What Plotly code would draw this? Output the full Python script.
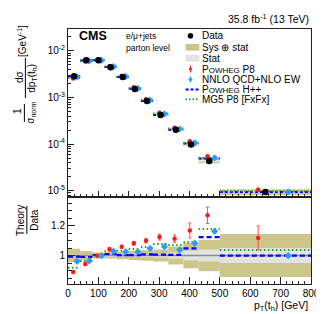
import plotly.graph_objects as go

# ---------------- data ----------------
bin_edges = [0, 40, 80, 120, 160, 200, 240, 280, 330, 380, 430, 500, 800]
data_xsec = [2.87e-3, 6.30e-3, 6.27e-3, 4.48e-3, 2.74e-3, 1.53e-3, 8.37e-4,
             4.20e-4, 2.03e-4, 9.86e-5, 4.35e-5, 9.4e-6]
tot_unc = [0.045, 0.030, 0.020, 0.020, 0.025, 0.030, 0.035, 0.040, 0.060, 0.085, 0.105, 0.143]
stat_unc = [0.008, 0.006, 0.006, 0.006, 0.007, 0.009, 0.011, 0.014, 0.020, 0.033, 0.040, 0.050]

ratio_powheg_p8 = [0.890, 0.943, 0.999, 1.042, 1.058, 1.081, 1.099, 1.123, 1.112, 1.167, 1.268, 1.117]
ratio_powheg_p8_err = [0.010, 0.008, 0.008, 0.010, 0.010, 0.012, 0.015, 0.020, 0.025, 0.050, 0.055, 0.080]
ratio_nnlo = [0.961, 0.964, 0.999, 1.028, 1.025, 1.025, 1.048, 1.059, 1.038, 1.082, 1.161, 0.999]
ratio_nnlo_err = [0.005, 0.004, 0.004, 0.004, 0.004, 0.005, 0.005, 0.006, 0.006, 0.007, 0.008, 0.010]
ratio_herwig = [0.993, 0.990, 1.003, 1.010, 1.003, 1.003, 1.008, 1.006, 1.004, 1.048, 1.123, 0.999]
ratio_mg5 = [0.918, 0.963, 1.004, 1.028, 1.032, 1.043, 1.057, 1.077, 1.070, 1.089, 1.177, 1.037]

x_ticks = [0, 100, 200, 300, 400, 500, 600, 700, 800]
log_ticks = [1e-5, 1e-4, 1e-3, 1e-2]
log_tick_text = ["10<sup>-5</sup>", "10<sup>-4</sup>", "10<sup>-3</sup>", "10<sup>-2</sup>"]
ratio_ticks = [0.8, 1.0, 1.2, 1.4]
ratio_tick_text = ["0.8", "1", "1.2", "1.4"]

# ---------------- derived ----------------
lo = bin_edges[:-1]
hi = bin_edges[1:]
centers = [(a + b) / 2 for a, b in zip(lo, hi)]
widths = [b - a for a, b in zip(lo, hi)]
x_p8 = [a + 0.42 * (b - a) for a, b in zip(lo, hi)]
x_nnlo = [a + 0.75 * (b - a) for a, b in zip(lo, hi)]

KHAKI = "#ccc68a"
STATG = "#e3e3e3"
RED = "#ff1a1a"
LBLUE = "#2a9cff"
BLUE = "#0000ff"
GREEN = "#1fa31f"
FONT = "Liberation Sans"


def segs(vals):
    xs, ys = [], []
    for a, b, v in zip(lo, hi, vals):
        xs += [a, b, None]
        ys += [v, v, None]
    return xs, ys


fig = go.Figure()

# ---------- top panel ----------
fig.add_trace(go.Bar(x=centers, width=widths,
                     base=[d * (1 - u) for d, u in zip(data_xsec, tot_unc)],
                     y=[d * 2 * u for d, u in zip(data_xsec, tot_unc)],
                     marker=dict(color=KHAKI, line=dict(width=0)), xaxis="x", yaxis="y"))
fig.add_trace(go.Bar(x=centers, width=widths,
                     base=[d * (1 - u) for d, u in zip(data_xsec, stat_unc)],
                     y=[d * 2 * u for d, u in zip(data_xsec, stat_unc)],
                     marker=dict(color=STATG, line=dict(width=0)), xaxis="x", yaxis="y"))
xs, ys = segs([d * r for d, r in zip(data_xsec, ratio_herwig)])
fig.add_trace(go.Scatter(x=xs, y=ys, mode="lines", line=dict(color=BLUE, width=2, dash="3px,2px"),
                         xaxis="x", yaxis="y"))
xs, ys = segs([d * r for d, r in zip(data_xsec, ratio_mg5)])
fig.add_trace(go.Scatter(x=xs, y=ys, mode="lines", line=dict(color=GREEN, width=2, dash="1.5px,2px"),
                         xaxis="x", yaxis="y"))
fig.add_trace(go.Scatter(x=x_p8, y=[d * r for d, r in zip(data_xsec, ratio_powheg_p8)], mode="markers",
                         marker=dict(color=RED, size=4.5, symbol="circle"),
                         error_y=dict(type="data", array=[d * r * e for d, r, e in zip(data_xsec, ratio_powheg_p8, ratio_powheg_p8_err)],
                                      color=RED, thickness=1, width=1),
                         xaxis="x", yaxis="y"))
fig.add_trace(go.Scatter(x=x_nnlo, y=[d * r for d, r in zip(data_xsec, ratio_nnlo)], mode="markers",
                         marker=dict(color=LBLUE, size=5.5, symbol="diamond"),
                         error_y=dict(type="data", array=[d * r * e for d, r, e in zip(data_xsec, ratio_nnlo, ratio_nnlo_err)],
                                      color=LBLUE, thickness=1, width=1),
                         xaxis="x", yaxis="y"))
fig.add_trace(go.Scatter(x=centers, y=data_xsec, mode="markers",
                         marker=dict(color="black", size=6.5, symbol="circle"), xaxis="x", yaxis="y"))

# ---------- ratio panel ----------
fig.add_trace(go.Bar(x=centers, width=widths, base=[1 - u for u in tot_unc], y=[2 * u for u in tot_unc],
                     marker=dict(color=KHAKI, line=dict(width=0)), xaxis="x2", yaxis="y2"))
fig.add_trace(go.Bar(x=centers, width=widths, base=[1 - u for u in stat_unc], y=[2 * u for u in stat_unc],
                     marker=dict(color=STATG, line=dict(width=0)), xaxis="x2", yaxis="y2"))
fig.add_trace(go.Scatter(x=[bin_edges[0], bin_edges[-1]], y=[1, 1], mode="lines",
                         line=dict(color="#8c8c8c", width=1.3), xaxis="x2", yaxis="y2"))
xs, ys = segs(ratio_herwig)
fig.add_trace(go.Scatter(x=xs, y=ys, mode="lines", line=dict(color=BLUE, width=2.2, dash="5px,3px"),
                         xaxis="x2", yaxis="y2"))
xs, ys = segs(ratio_mg5)
fig.add_trace(go.Scatter(x=xs, y=ys, mode="lines", line=dict(color=GREEN, width=2, dash="1.5px,2.5px"),
                         xaxis="x2", yaxis="y2"))
fig.add_trace(go.Scatter(x=x_p8, y=ratio_powheg_p8, mode="markers",
                         marker=dict(color=RED, size=4.5, symbol="circle"),
                         error_y=dict(type="data", array=ratio_powheg_p8_err, color="#ff5050", thickness=1, width=1.5),
                         xaxis="x2", yaxis="y2"))
fig.add_trace(go.Scatter(x=x_nnlo, y=ratio_nnlo, mode="markers",
                         marker=dict(color=LBLUE, size=5.5, symbol="diamond"),
                         error_y=dict(type="data", array=ratio_nnlo_err, color=LBLUE, thickness=1, width=1.5),
                         xaxis="x2", yaxis="y2"))

# ---------- axes ----------
minor_log = [k * 10.0 ** e for e in range(-6, -1) for k in range(2, 10)]
axcommon = dict(showline=True, linecolor="#222", linewidth=1, mirror=True, ticks="inside",
                tickcolor="#222", showgrid=False, zeroline=False,
                tickfont=dict(family=FONT, size=10, color="black"))
SPLIT = 87 / 255
fig.update_layout(
    width=324, height=314, margin=dict(l=60, r=16, t=21, b=38),
    plot_bgcolor="white", paper_bgcolor="white", showlegend=False, barmode="overlay",
    xaxis=dict(domain=[0, 1], anchor="y", range=[0, 800], tickvals=x_ticks, ticklen=6,
               showticklabels=False,
               minor=dict(dtick=20, ticks="inside", ticklen=3, tickcolor="#222"), **axcommon),
    yaxis=dict(domain=[SPLIT, 1], anchor="x", type="log", range=[-5.135, -1.53],
               tickvals=log_ticks, ticktext=log_tick_text, ticklen=6,
               minor=dict(tickvals=minor_log, ticks="inside", ticklen=3, tickcolor="#222"), **axcommon),
    xaxis2=dict(domain=[0, 1], anchor="y2", range=[0, 800], tickvals=x_ticks, ticklen=7,
                minor=dict(dtick=20, ticks="inside", ticklen=3.5, tickcolor="#222"), **axcommon),
    yaxis2=dict(domain=[0, SPLIT], anchor="x2", range=[0.81, 1.39], tickvals=ratio_ticks,
                ticktext=ratio_tick_text, ticklen=7,
                minor=dict(dtick=0.05, ticks="inside", ticklen=3.5, tickcolor="#222"), **axcommon),
)


# ---------- annotations / decorations ----------
def px(x):
    return (x - 60) / 248


def py(y):
    return 1 - (y - 21) / 255


ann = []


def text(x, y, s, size=10, xanchor="left", angle=0, yanchor="middle"):
    ann.append(dict(x=px(x), y=py(y), xref="paper", yref="paper", text=s, showarrow=False,
                    xanchor=xanchor, yanchor=yanchor, textangle=angle,
                    font=dict(family=FONT, size=size, color="black")))


text(307.5, 11, "35.8 fb<sup>-1</sup> (13 TeV)", size=10.5, xanchor="right")
text(69, 27.5, "<b>CMS</b>", size=12.5)
text(117, 28, "e/μ+jets", size=8.5)
text(117, 40, "parton level", size=8.5)

sc = "<span style='font-size:8px'>OWHEG</span>"
leg_rows = [27.7, 39.2, 50.2, 61, 71.5, 81.5, 91.2]
leg_text = ["Data", "Sys ⊕ stat", "Stat", "P" + sc + " P8", "NNLO QCD+NLO EW", "P" + sc + " H++",
            "MG5 P8 [FxFx]"]
for yy, s in zip(leg_rows, leg_text):
    text(194.5, yy, s, size=10)

# axis titles
text(306.5, 298, "p<sub>T</sub>(t<sub>h</sub>) [GeV]", size=10.5, xanchor="right")
text(9, 103, "1", size=10, xanchor="center", angle=-90)
text(22, 105, "σ<sub>norm</sub>", size=10, xanchor="center", angle=-90)
text(10, 69, "dσ", size=10, xanchor="center", angle=-90)
text(23, 70, "dp<sub>T</sub>(t<sub>h</sub>)", size=10, xanchor="center", angle=-90)
text(13, 33, "[GeV<sup>-1</sup>]", size=10, xanchor="center", angle=-90)
text(11, 212, "Theory", size=10, xanchor="center", angle=-90)
text(25, 212, "Data", size=10, xanchor="center", angle=-90)

shapes = []


def line(x0, y0, x1, y1, color="black", width=1, dash=None):
    d = dict(type="line", xref="paper", yref="paper", x0=px(x0), y0=py(y0), x1=px(x1), y1=py(y1),
             line=dict(color=color, width=width))
    if dash:
        d["line"]["dash"] = dash
    shapes.append(d)


# fraction bars of the y titles
line(15.5, 96, 15.5, 114)
line(16.5, 50, 16.5, 90)
line(18, 198, 18, 226)

# legend glyphs
shapes.append(dict(type="circle", xref="paper", yref="paper", x0=px(182.2), x1=px(187.8),
                   y0=py(30.5), y1=py(24.9), fillcolor="black", line=dict(width=0)))
shapes.append(dict(type="rect", xref="paper", yref="paper", x0=px(180), x1=px(194),
                   y0=py(42.6), y1=py(35.9), fillcolor=KHAKI, line=dict(width=0)))
shapes.append(dict(type="rect", xref="paper", yref="paper", x0=px(180), x1=px(194),
                   y0=py(53.5), y1=py(46.9), fillcolor=STATG, line=dict(width=0)))
line(185, 57.5, 185, 64.5, color=RED, width=1)
shapes.append(dict(type="circle", xref="paper", yref="paper", x0=px(183.4), x1=px(186.6),
                   y0=py(62.6), y1=py(59.4), fillcolor=RED, line=dict(width=0)))
line(185, 68.5, 185, 74.5, color=LBLUE, width=1)
shapes.append(dict(type="path", xref="paper", yref="paper",
                   path="M %f,%f L %f,%f L %f,%f L %f,%f Z" % (px(185), py(69), px(187.3), py(71.5),
                                                               px(185), py(74), px(182.7), py(71.5)),
                   fillcolor=LBLUE, line=dict(width=0)))
line(180, 81.5, 194, 81.5, color=BLUE, width=2, dash="3px,2px")
line(180, 91.2, 194, 91.2, color=GREEN, width=2, dash="1.5px,2px")

fig.update_layout(annotations=ann, shapes=shapes)
fig.write_html("out.html")
